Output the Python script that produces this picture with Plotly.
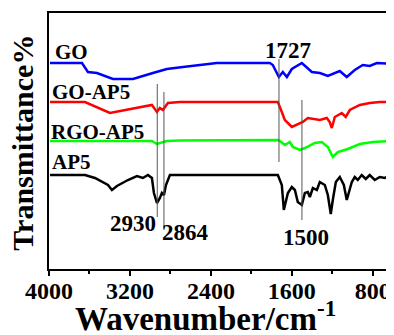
import plotly.graph_objects as go

# ---------------- data (wavenumber in cm^-1, transmittance in arbitrary offset units) -------------
go_wn = [3990, 3674, 3615, 3526, 3368, 3170, 2973, 2835, 2676, 2341, 1916, 1817, 1788, 1728,
         1689, 1649, 1600, 1501, 1402, 1323, 1244, 1126, 1057, 978, 899, 830, 760, 632, 602]
go_t = [206, 206, 197, 196, 190, 190, 196, 200, 202, 206, 206, 206, 204, 192,
        197, 192, 200, 206, 197, 196, 193, 198, 192, 199, 204, 203, 206, 205, 205]

goap5_wn = [3990, 3644, 3398, 3180, 2983, 2933, 2904, 2874, 2825, 2706, 1748, 1738, 1699, 1669,
            1600, 1541, 1491, 1442, 1323, 1254, 1225, 1205, 1175, 1106, 1067, 1027, 928, 830, 731, 602]
goap5_t = [167, 167, 156, 160, 164, 157, 161, 159, 166, 167, 167, 167, 157, 149,
           142, 145, 147, 151, 149, 151, 147, 141, 152, 156, 152, 159, 164, 166, 167, 167]

rgoap5_wn = [3990, 2983, 2933, 2874, 2835, 2706, 1738, 1718, 1669, 1620, 1590, 1521, 1471,
             1373, 1304, 1244, 1195, 1146, 1047, 928, 800, 602]
rgoap5_t = [128, 128, 125, 127, 128, 128.5, 129, 128, 124, 127, 122, 119, 121,
            126, 127, 122, 112, 117, 120, 125, 127, 128]

ap5_wn = [3990, 3644, 3546, 3417, 3378, 3328, 3220, 3131, 3072, 3022, 2983, 2963, 2933, 2904,
          2884, 2864, 2844, 2805, 2706, 1738, 1699, 1679, 1639, 1600, 1570, 1541, 1501, 1471,
          1442, 1422, 1392, 1353, 1323, 1274, 1244, 1215, 1195, 1165, 1126, 1086, 1057, 1037,
          1007, 978, 948, 909, 869, 830, 780, 731, 681, 612]
ap5_t = [94, 94, 91, 84, 79, 83, 89, 93, 91, 94, 91, 76, 66, 71,
         76, 74, 84, 94, 94, 94, 84, 59, 76, 82, 79, 67, 64, 76,
         77, 72, 81, 79, 87, 84, 74, 55, 69, 87, 92, 84, 69, 77,
         87, 92, 89, 94, 90, 94, 89, 92, 91, 94]

series_names = ["GO", "GO-AP5", "RGO-AP5", "AP5"]
series_colors = ["#0000ff", "#ff0000", "#00ff00", "#000000"]

# marker lines: wavenumber, lower and upper transmittance of the guide line
peak_wn = [2930, 2864, 1727, 1500]
peak_lo = [52, 39, 107, 49]
peak_hi = [185, 177, 210, 169]
peak_label_t = [46, 37, 219, 32]
peak_label_wn = [3170, 2647, 1639, 1462]

name_label_wn = [3773, 3585, 3516, 3773]
name_label_t = [217, 177, 137, 107]

x_tickvals = [4000, 3200, 2400, 1600, 800]
x_minor = [3600, 2800, 2000, 1200]

FONT = "Liberation Serif, Times New Roman, serif"

fig = go.Figure()
for wn, t, c in zip([go_wn, goap5_wn, rgoap5_wn, ap5_wn],
                    [go_t, goap5_t, rgoap5_t, ap5_t], series_colors):
    fig.add_trace(go.Scatter(x=wn, y=t, mode="lines",
                             line=dict(color=c, width=2.5), showlegend=False,
                             hoverinfo="skip"))

for wn, lo, hi in zip(peak_wn, peak_lo, peak_hi):
    fig.add_shape(type="line", x0=wn, x1=wn, y0=lo, y1=hi, xref="x", yref="y",
                  line=dict(color="#555555", width=1))

for wn, t, lw in zip(peak_label_wn, peak_label_t, peak_wn):
    fig.add_annotation(x=wn, y=t, xref="x", yref="y", text=f"<b>{lw}</b>",
                       showarrow=False, font=dict(family=FONT, size=23, color="black"))

for wn, t, name in zip(name_label_wn, name_label_t, series_names):
    fig.add_annotation(x=wn, y=t, xref="x", yref="y", text=f"<b>{name}</b>",
                       showarrow=False, font=dict(family=FONT, size=21, color="black"))

# axis titles
fig.add_annotation(x=0.455, y=-0.185, xref="paper", yref="paper", xanchor="center", yanchor="middle",
                   text="<b>Wavenumber/cm<sup>-1</sup></b>", showarrow=False,
                   font=dict(family=FONT, size=33, color="black"))
fig.add_annotation(x=-0.078, y=0.494, xref="paper", yref="paper", xanchor="center", yanchor="middle",
                   text="<b>Transmittance%</b>", textangle=-90, showarrow=False,
                   font=dict(family=FONT, size=30, color="black"))

fig.update_xaxes(range=[4000, 600], tickvals=x_tickvals, ticktext=[f"<b>{v}</b>" for v in x_tickvals],
                 ticks="outside", ticklen=5, tickwidth=1.5, tickcolor="black",
                 minor=dict(tickvals=x_minor, ticks="outside", ticklen=3, tickwidth=1.5, tickcolor="black"),
                 showline=True, linewidth=2, linecolor="black", mirror=True,
                 showgrid=False, zeroline=False, automargin=False, ticklabelstandoff=-6,
                 tickfont=dict(family=FONT, size=24, color="black"))
fig.update_yaxes(range=[0, 256], showticklabels=False, ticks="",
                 showline=True, linewidth=2, linecolor="black", mirror=True,
                 showgrid=False, zeroline=False, automargin=False)

# the page body adds an 8 px offset; margins compensate so the plot lands where the reference has it
fig.update_layout(width=394, height=335, margin=dict(l=41, r=9, t=5, b=74),
                  plot_bgcolor="white", paper_bgcolor="white")

fig.write_html("out.html")
